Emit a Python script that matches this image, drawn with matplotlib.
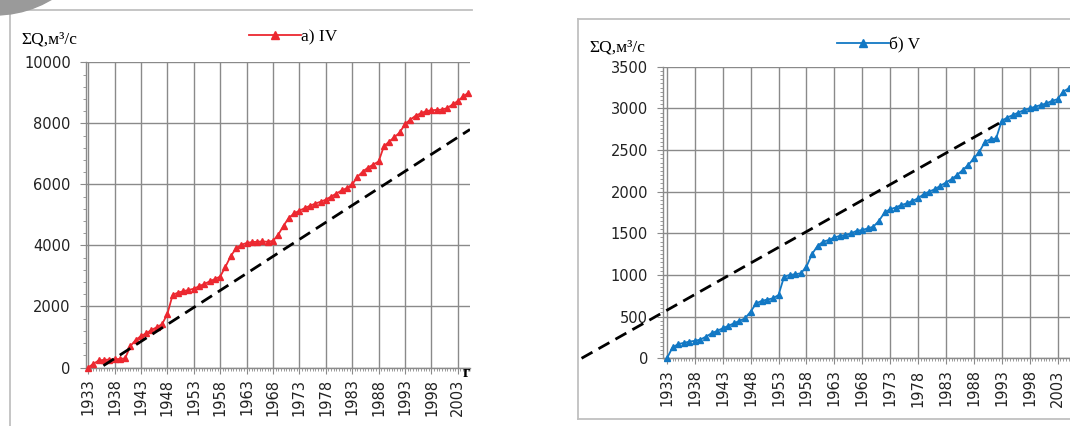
import matplotlib
matplotlib.use("Agg")
import matplotlib.pyplot as plt
from matplotlib.lines import Line2D
from matplotlib.patches import Circle
from matplotlib.ticker import MultipleLocator

# cumulative discharge, yearly values 1933-2005
years = list(range(1933, 2006))

sum_q_iv = [0, 120, 230, 250, 260, 270, 280, 300, 700, 900,
            1030, 1120, 1230, 1320, 1420, 1750, 2380, 2450, 2500, 2540,
            2580, 2660, 2740, 2820, 2900, 2980, 3300, 3650, 3900, 4020,
            4080, 4110, 4120, 4130, 4120, 4150, 4350, 4650, 4900, 5050,
            5140, 5220, 5300, 5370, 5430, 5500, 5600, 5700, 5800, 5880,
            6000, 6250, 6420, 6550, 6650, 6750, 7250, 7400, 7550, 7700,
            7980, 8120, 8250, 8330, 8400, 8430, 8440, 8450, 8500, 8620,
            8730, 8880, 9000]

sum_q_v = [0, 130, 170, 185, 200, 210, 225, 260, 300, 330,
           360, 390, 420, 450, 480, 560, 660, 690, 705, 720,
           760, 980, 1000, 1010, 1020, 1100, 1250, 1350, 1400, 1420,
           1450, 1470, 1480, 1500, 1530, 1540, 1560, 1580, 1650, 1750,
           1790, 1810, 1840, 1860, 1890, 1920, 1970, 2000, 2030, 2070,
           2110, 2150, 2200, 2260, 2320, 2400, 2480, 2600, 2630, 2640,
           2850, 2890, 2920, 2950, 2980, 3000, 3020, 3040, 3060, 3090,
           3110, 3200, 3240]

# linear trends (start/end year and value)
trend_iv_years = [1935.9, 2005.3]
trend_iv_vals = [60, 7800]
trend_v_years = [1917.7, 1993.0]
trend_v_vals = [0, 2840]

label_iv = "а) IV"
label_v = "б) V"
y_title = "ΣQ,м³/с"

RED = "#ec2830"
BLUE = "#1278c4"
GRID = "#8a8a8a"

W, H = 1070, 426
fig = plt.figure(figsize=(W / 100, H / 100), dpi=100)


def box(x0, y0, x1, y1):
    # pixel box (top-left origin) -> figure fraction rect
    return [x0 / W, 1 - y1 / H, (x1 - x0) / W, (y1 - y0) / H]


serif = dict(family="Liberation Serif", size=12.5)

ax1 = fig.add_axes(box(86, 62.3, 470, 367.5))
ax2 = fig.add_axes(box(663.3, 66.7, 1075, 358.3))


def style(ax, xlim, ylim, ystep, yminor):
    ax.set_xlim(*xlim)
    ax.set_ylim(*ylim)
    ax.xaxis.set_major_locator(MultipleLocator(5, offset=1933))
    ax.xaxis.set_minor_locator(MultipleLocator(0.5, offset=0.0))
    ax.yaxis.set_major_locator(MultipleLocator(ystep))
    ax.yaxis.set_minor_locator(MultipleLocator(yminor))
    ax.grid(True, which="major", color=GRID, lw=1.0)
    ax.set_axisbelow(True)
    for s in ["top", "right"]:
        ax.spines[s].set_visible(False)
    for s in ["left", "bottom"]:
        ax.spines[s].set_color(GRID)
        ax.spines[s].set_linewidth(1.0)
    ax.tick_params(axis="both", which="major", color=GRID, length=4,
                   labelsize=10.5, labelcolor="#222222", pad=7)
    ax.tick_params(axis="both", which="minor", color=GRID, length=2.5)
    ax.tick_params(axis="x", which="major", labelrotation=90, pad=4)
    ax.set_xticklabels([str(int(round(t))) for t in ax.get_xticks()])


style(ax1, (1932.6, 2005.3), (0, 10000), 2000, 400)
style(ax2, (1932.35, 1932.35 + 411.7 / 5.58), (0, 3500), 500, 50)

ax1.plot(years, sum_q_iv, color=RED, lw=1.3, marker="^", ms=5,
         clip_on=False, zorder=3)
ax1.plot(trend_iv_years, trend_iv_vals, color="black", lw=2.0,
         dashes=(4.5, 2.5), zorder=4)

ax2.plot(years, sum_q_v, color=BLUE, lw=1.3, marker="^", ms=5,
         clip_on=False, zorder=3)
ax2.plot(trend_v_years, trend_v_vals, color="black", lw=2.0,
         dashes=(4.5, 2.5), clip_on=False, zorder=4)

# axis captions
fig.text(21 / W, 1 - 44 / H, y_title, fontdict=serif, ha="left", va="baseline")
fig.text(589 / W, 1 - 51 / H, y_title, fontdict=serif, ha="left", va="baseline")
fig.text(466 / W, 1 - 373 / H, "г", family="Liberation Serif", size=12,
         weight="bold", ha="center", va="center")

# legends
h1 = Line2D([], [], color=RED, lw=1.3, marker="^", ms=5.5)
fig.legend(handles=[h1], labels=[label_iv], loc="center left",
           bbox_to_anchor=(240 / W, 1 - 37 / H), frameon=False,
           handlelength=3.0, handletextpad=0.0, borderpad=0, prop=serif)
h2 = Line2D([], [], color=BLUE, lw=1.3, marker="^", ms=5.5)
fig.legend(handles=[h2], labels=[label_v], loc="center left",
           bbox_to_anchor=(828 / W, 1 - 45 / H), frameon=False,
           handlelength=3.0, handletextpad=0.0, borderpad=0, prop=serif)

# chart frames
frame = dict(color="#c0c0c0", lw=1.3, transform=fig.transFigure)
fig.add_artist(Line2D([10 / W, 10 / W], [0, 1 - 10 / H], **frame))
fig.add_artist(Line2D([10 / W, 472 / W], [1 - 10 / H, 1 - 10 / H], **frame))
fig.add_artist(Line2D([578 / W, 578 / W], [1 - 419 / H, 1 - 19 / H], **frame))
fig.add_artist(Line2D([578 / W, 1], [1 - 19 / H, 1 - 19 / H], **frame))
fig.add_artist(Line2D([578 / W, 1], [1 - 419 / H, 1 - 419 / H], **frame))

# grey corner badge (inches, from lower-left)
fig.add_artist(Circle((-0.05, (H + 95) / 100), 1.10,
                      transform=fig.dpi_scale_trans, color="#9a9a9a",
                      zorder=10))

fig.savefig("out.png", dpi=100)
